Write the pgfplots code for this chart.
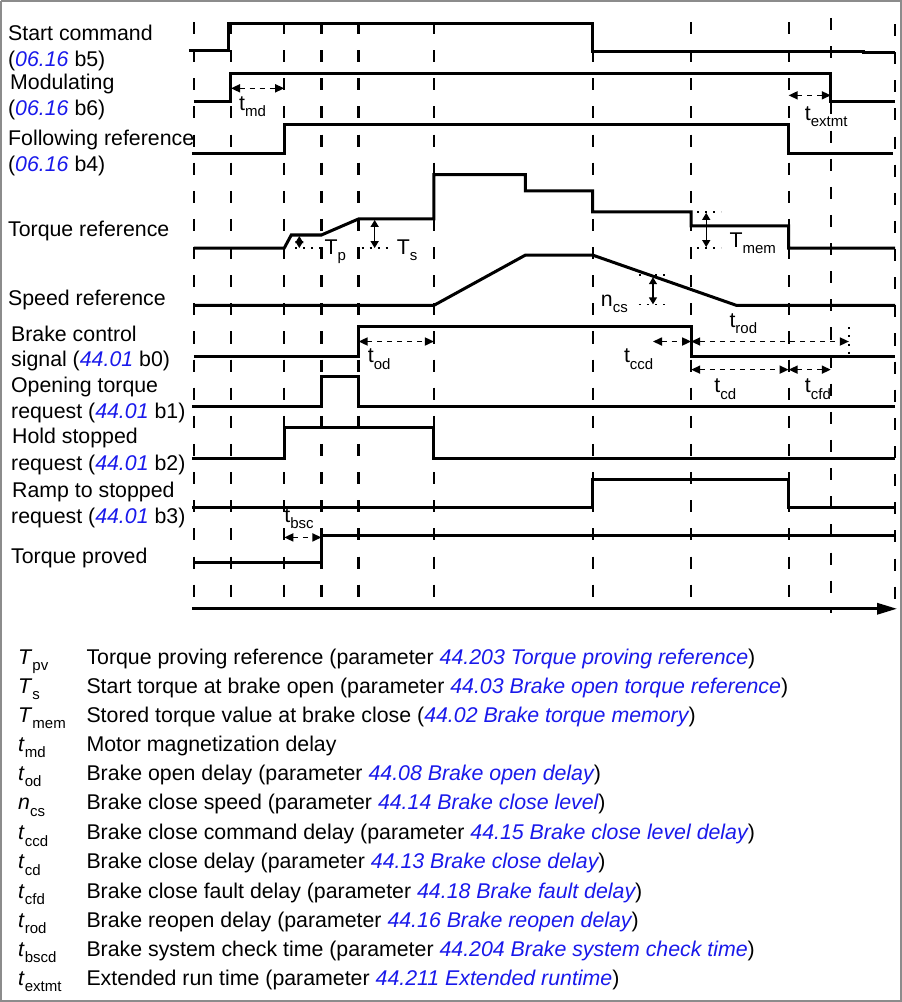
\documentclass[border=0pt]{standalone}
\usepackage{pgfplots}
\pgfplotsset{compat=1.18}
\usepackage{fontspec}
\setmainfont{Liberation Sans}
\usetikzlibrary{arrows.meta}
\definecolor{parblue}{RGB}{25,25,235}
\newcommand{\sub}[1]{\raisebox{-0.3em}{\fontsize{15}{15}\selectfont #1}}
\newcommand{\prm}[1]{{\color{parblue}\itshape #1}}
\tikzset{
  sig/.style={black, line width=3bp},
  grd/.style={black, line width=2.2bp, dash pattern=on 12bp off 16bp},
  ann/.style={black, line width=1.6bp, dash pattern=on 5bp off 5bp,
    {Triangle[length=9bp,width=8bp]}-{Triangle[length=9bp,width=8bp]}},
  vann/.style={black, line width=1.4bp,
    {Triangle[length=7bp,width=8bp]}-{Triangle[length=7bp,width=8bp]}},
  dot/.style={black, line width=1.6bp, dash pattern=on 2bp off 6bp},
  lbl/.style={anchor=base west, inner sep=0pt, font=\fontsize{21.3}{25}\selectfont},
}
\begin{document}
\begin{tikzpicture}
\begin{axis}[
  scale only axis, width=902bp, height=1002bp,
  xmin=0, xmax=902, ymin=0, ymax=1002, y dir=reverse,
  axis lines=none, clip=false,
]
% frame
\addplot[gray!90, line width=1.8bp] coordinates {(3,3) (898.5,3) (898.5,998.5) (3,998.5) (3,3)};

% vertical time markers
\addplot[grd] coordinates {(195,24) (195,612)};
\addplot[grd] coordinates {(232,24) (232,612)};
\addplot[grd] coordinates {(285,24) (285,612)};
\addplot[grd] coordinates {(322,24) (322,612)};
\addplot[grd] coordinates {(359,24) (359,612)};
\addplot[grd] coordinates {(434,24) (434,612)};
\addplot[grd] coordinates {(592,24) (592,612)};
\addplot[grd] coordinates {(690,24) (690,612)};
\addplot[grd] coordinates {(787,24) (787,612)};
\addplot[grd] coordinates {(829,20) (829,612)};
\addplot[grd] coordinates {(893,26) (893,612)};

% signals
\addplot[sig] coordinates {(190,52) (230,52) (230,25) (592,25) (592,53) (862,53) (862,54) (893,54)};
\addplot[sig] coordinates {(195,103) (232,103) (232,75) (829,75) (829,103) (893,103)};
\addplot[sig] coordinates {(193,155) (285,155) (285,126) (787,126) (787,155) (891,155)};
\addplot[sig] coordinates {(195,249) (285,249) (292,236) (322,236) (359,220) (434,220) (434,176) (525,176) (525,192) (592,192) (592,213) (690,213) (690,227) (787,227) (787,249) (893,249)};
\addplot[sig] coordinates {(195,306) (434,306) (525,256) (592,256) (735,306) (893,306)};
\addplot[sig] coordinates {(195,357) (359,357) (359,327) (690,327) (690,357) (893,357)};
\addplot[sig] coordinates {(193,407) (322,407) (322,377) (359,377) (359,407) (893,407)};
\addplot[sig] coordinates {(193,458) (285,458) (285,428) (434,428) (434,458) (893,458)};
\addplot[sig] coordinates {(193,507) (592,507) (592,479) (787,479) (787,507) (893,507)};
\addplot[sig] coordinates {(195,562) (322,562) (322,535) (893,535)};
\addplot[sig, -{Triangle[length=20bp,width=11bp]}] coordinates {(193,608) (895,608)};

% time annotations
\addplot[ann] coordinates {(232,90) (285,90)};
\addplot[ann] coordinates {(787,97) (829,97)};
\addplot[ann] coordinates {(359,342) (434,342)};
\addplot[ann] coordinates {(652,342) (690,342)};
\addplot[ann] coordinates {(690,342) (847,342)};
\addplot[ann] coordinates {(690,370) (787,370)};
\addplot[ann] coordinates {(787,370) (829,370)};
\addplot[ann] coordinates {(285,537) (322,537)};
\addplot[dot] coordinates {(847,328) (847,356)};

% level annotations
\addplot[vann] coordinates {(300,237) (300,249)};
\addplot[dot] coordinates {(296,249) (322,249)};
\addplot[vann] coordinates {(375,221) (375,249)};
\addplot[dot] coordinates {(362,249) (393,249)};
\addplot[vann] coordinates {(705,214) (705,248)};
\addplot[dot] coordinates {(696,213) (720,213)};
\addplot[dot] coordinates {(696,249) (720,249)};
\addplot[vann] coordinates {(652,278) (652,305)};
\addplot[dot] coordinates {(638,276) (668,276)};
\addplot[dot] coordinates {(638,305) (668,305)};

% annotation labels
\node[lbl] at (axis cs:240,112) {t\sub{md}};
\node[lbl] at (axis cs:803,122) {t\sub{extmt}};
\node[lbl] at (axis cs:325,255) {T\sub{p}};
\node[lbl] at (axis cs:397,255) {T\sub{s}};
\node[lbl] at (axis cs:728,248) {T\sub{mem}};
\node[lbl] at (axis cs:600,307) {n\sub{cs}};
\node[lbl] at (axis cs:368,363) {t\sub{od}};
\node[lbl] at (axis cs:623,363) {t\sub{ccd}};
\node[lbl] at (axis cs:728,328) {t\sub{rod}};
\node[lbl] at (axis cs:713,393) {t\sub{cd}};
\node[lbl] at (axis cs:803,393) {t\sub{cfd}};
\node[lbl] at (axis cs:285,522) {t\sub{bsc}};

% signal names
\node[lbl] at (axis cs:10,42) {Start command};
\node[lbl] at (axis cs:10,68) {(\prm{06.16} b5)};
\node[lbl] at (axis cs:12,91) {Modulating};
\node[lbl] at (axis cs:10,117) {(\prm{06.16} b6)};
\node[lbl] at (axis cs:10,147) {Following reference};
\node[lbl] at (axis cs:10,173) {(\prm{06.16} b4)};
\node[lbl] at (axis cs:10,237) {Torque reference};
\node[lbl] at (axis cs:10,306) {Speed reference};
\node[lbl] at (axis cs:13,342) {Brake control};
\node[lbl] at (axis cs:13,367) {signal (\prm{44.01} b0)};
\node[lbl] at (axis cs:13,393) {Opening torque};
\node[lbl] at (axis cs:13,419) {request (\prm{44.01} b1)};
\node[lbl] at (axis cs:14,444) {Hold stopped};
\node[lbl] at (axis cs:13,470) {request (\prm{44.01} b2)};
\node[lbl] at (axis cs:14,497) {Ramp to stopped};
\node[lbl] at (axis cs:13,523) {request (\prm{44.01} b3)};
\node[lbl] at (axis cs:13,563) {Torque proved};

% key
\node[lbl] at (axis cs:20,663) {\textit{T}\sub{pv}};
\node[lbl] at (axis cs:88,663) {Torque proving reference (parameter \prm{44.203 Torque proving reference})};
\node[lbl] at (axis cs:20,692) {\textit{T}\sub{s}};
\node[lbl] at (axis cs:88,692) {Start torque at brake open (parameter \prm{44.03 Brake open torque reference})};
\node[lbl] at (axis cs:20,721) {\textit{T}\sub{mem}};
\node[lbl] at (axis cs:88,721) {Stored torque value at brake close (\prm{44.02 Brake torque memory})};
\node[lbl] at (axis cs:20,750) {\textit{t}\sub{md}};
\node[lbl] at (axis cs:88,750) {Motor magnetization delay};
\node[lbl] at (axis cs:20,779) {\textit{t}\sub{od}};
\node[lbl] at (axis cs:88,779) {Brake open delay (parameter \prm{44.08 Brake open delay})};
\node[lbl] at (axis cs:20,808) {\textit{n}\sub{cs}};
\node[lbl] at (axis cs:88,808) {Brake close speed (parameter \prm{44.14 Brake close level})};
\node[lbl] at (axis cs:20,838) {\textit{t}\sub{ccd}};
\node[lbl] at (axis cs:88,838) {Brake close command delay (parameter \prm{44.15 Brake close level delay})};
\node[lbl] at (axis cs:20,867) {\textit{t}\sub{cd}};
\node[lbl] at (axis cs:88,867) {Brake close delay (parameter \prm{44.13 Brake close delay})};
\node[lbl] at (axis cs:20,896) {\textit{t}\sub{cfd}};
\node[lbl] at (axis cs:88,896) {Brake close fault delay (parameter \prm{44.18 Brake fault delay})};
\node[lbl] at (axis cs:20,925) {\textit{t}\sub{rod}};
\node[lbl] at (axis cs:88,925) {Brake reopen delay (parameter \prm{44.16 Brake reopen delay})};
\node[lbl] at (axis cs:20,954) {\textit{t}\sub{bscd}};
\node[lbl] at (axis cs:88,954) {Brake system check time (parameter \prm{44.204 Brake system check time})};
\node[lbl] at (axis cs:20,983) {\textit{t}\sub{extmt}};
\node[lbl] at (axis cs:88,983) {Extended run time (parameter \prm{44.211 Extended runtime})};
\end{axis}
\end{tikzpicture}
\end{document}
